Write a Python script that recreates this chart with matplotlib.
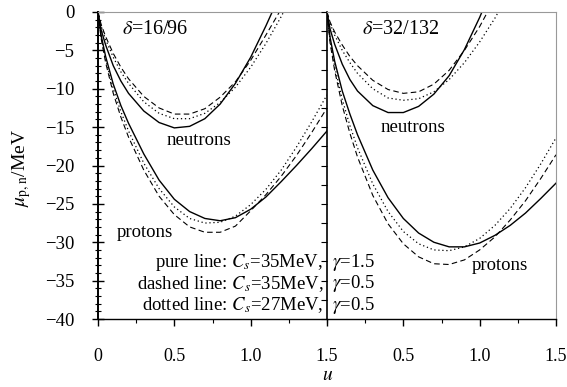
import matplotlib
matplotlib.use("Agg")
import matplotlib.pyplot as plt
from matplotlib.ticker import MultipleLocator, FixedLocator

plt.rcParams['font.family'] = ['Liberation Serif', 'DejaVu Serif']
plt.rcParams['mathtext.fontset'] = 'stix'

u = [0, 0.02, 0.05, 0.1, 0.15, 0.2, 0.3, 0.4, 0.5, 0.6, 0.7, 0.8, 0.9,
     1.0, 1.1, 1.2, 1.3, 1.4, 1.5]

# delta = 16/96
n16_solid = [0, -2.3, -4.3, -7.0, -9.0, -10.6, -12.9, -14.4, -15.1, -14.9, -13.9,
             -12.0, -9.3, -5.9, -1.8, 2.6]
n16_dashed = [0, -1.6, -3.2, -5.4, -7.2, -8.7, -11.0, -12.5, -13.3, -13.3, -12.6,
              -11.1, -9.1, -6.3, -3.0, 0.4, 4.2]
n16_dotted = [0, -1.8, -3.6, -5.9, -7.8, -9.3, -11.7, -13.2, -13.9, -13.9, -13.2,
              -11.8, -9.8, -7.2, -4.1, -0.6, 3.3]
p16_solid = [0, -3.0, -5.8, -9.4, -12.2, -14.5, -18.5, -21.9, -24.4, -26.0, -26.9,
             -27.2, -26.8, -25.7, -24.1, -22.1, -20.0, -17.8, -15.5]
p16_dashed = [0, -3.4, -6.6, -10.6, -13.7, -16.3, -20.6, -24.0, -26.4, -28.0, -28.7,
              -28.7, -27.9, -25.9, -23.8, -21.4, -18.7, -15.7, -12.5]
p16_dotted = [0, -3.2, -6.2, -10.0, -13.0, -15.5, -19.7, -23.0, -25.4, -26.9, -27.5,
              -27.4, -26.6, -25.1, -23.1, -20.6, -17.6, -14.3, -10.8]

# delta = 32/132
n32_solid = [0, -2.2, -4.2, -6.8, -8.8, -10.3, -12.2, -13.1, -13.1, -12.3, -10.7,
             -8.3, -4.9, -0.7, 4.0]
n32_dashed = [0, -1.3, -2.6, -4.3, -5.8, -7.0, -8.9, -10.1, -10.6, -10.4, -9.4,
              -7.6, -5.0, -1.9, 1.8]
n32_dotted = [0, -1.5, -3.0, -5.0, -6.6, -8.0, -10.0, -11.2, -11.5, -11.3, -10.4,
              -8.8, -6.6, -3.9, -0.8, 2.8]
p32_solid = [0, -3.3, -6.4, -10.3, -13.3, -16.0, -20.6, -24.2, -26.9, -28.8, -30.0,
             -30.6, -30.6, -30.1, -29.1, -27.8, -26.2, -24.3, -22.3]
p32_dashed = [0, -4.0, -7.6, -12.2, -15.8, -18.9, -23.9, -27.6, -30.2, -31.9, -32.8,
              -32.9, -32.3, -31.0, -29.3, -27.1, -24.6, -21.7, -18.6]
p32_dotted = [0, -3.7, -7.1, -11.4, -14.8, -17.7, -22.4, -26.0, -28.6, -30.2, -31.0,
              -31.1, -30.6, -29.5, -27.8, -25.6, -22.9, -19.8, -16.4]

styles = {'solid': dict(color='black', lw=1.0, ls='-'),
          'dashed': dict(color='black', lw=0.8, ls=(0, (5, 3))),
          'dotted': dict(color='black', lw=0.9, ls=(0, (1, 2.2)))}

fig = plt.figure(figsize=(5.67, 3.87), dpi=100)
L, R, B, T = 98 / 567, 556 / 567, 1 - 319 / 387, 1 - 12 / 387
w = (R - L) / 2
ax1 = fig.add_axes([L, B, w, T - B])
ax2 = fig.add_axes([L + w, B, w, T - B])

panels = [(ax1, [n16_solid, n16_dashed, n16_dotted], [p16_solid, p16_dashed, p16_dotted]),
          (ax2, [n32_solid, n32_dashed, n32_dotted], [p32_solid, p32_dashed, p32_dotted])]
for ax, ns, ps in panels:
    for vals, key in zip(ns, ['solid', 'dashed', 'dotted']):
        ax.plot(u[:len(vals)], vals, **styles[key])
    for vals, key in zip(ps, ['solid', 'dashed', 'dotted']):
        ax.plot(u[:len(vals)], vals, **styles[key])
    ax.set_xlim(0, 1.5)
    ax.set_ylim(-40, 0)
    ax.spines['top'].set_color('#999999')
    ax.spines['top'].set_linestyle((0, (1, 1)))
    ax.spines['bottom'].set_linewidth(1.0)
    ax.xaxis.set_major_locator(FixedLocator([0, 0.5, 1.0, 1.5]))
    ax.xaxis.set_minor_locator(MultipleLocator(0.25))
    ax.tick_params(axis='x', which='major', direction='out', length=5, width=1.0,
                   pad=16, labelsize=13)
    ax.tick_params(axis='x', which='minor', direction='out', length=3, width=0.8)

ax1.set_xticks([0, 0.5, 1.0])
ax1.set_xticklabels(['0', '0.5', '1.0'])
ax2.set_xticks([0, 0.5, 1.0, 1.5])
ax2.set_xticklabels(['1.5', '0.5', '1.0', '1.5'])

ax1.spines['right'].set_visible(False)
ax1.spines['left'].set_linewidth(1.4)
ax1.yaxis.set_major_locator(MultipleLocator(5))
ax1.yaxis.set_minor_locator(MultipleLocator(1))
ax1.tick_params(axis='y', which='major', direction='inout', length=8, width=1.0,
                pad=13, labelsize=13.5)
ax1.tick_params(axis='y', which='minor', direction='inout', length=4, width=0.8)
ax1.set_yticks(range(-40, 1, 5))

ax2.spines['right'].set_color('#999999')
ax2.spines['left'].set_linewidth(1.2)
ax2.yaxis.set_major_locator(MultipleLocator(2.5))
ax2.tick_params(axis='y', which='major', direction='out', length=4, width=0.8,
                labelleft=False)

ax1.text(0.16, -2.9, r'$\delta$=16/96', fontsize=14.5)
ax2.text(0.23, -2.9, r'$\delta$=32/132', fontsize=14.5)
ax1.text(0.66, -17.3, 'neutrons', fontsize=13.5, ha='center')
ax2.text(0.56, -15.7, 'neutrons', fontsize=13.5, ha='center')
ax1.text(0.12, -29.3, 'protons', fontsize=13.5)
ax2.text(0.95, -33.6, 'protons', fontsize=13.5)

leg_left = [r'pure line: $C_s$=35MeV,', r'dashed line: $C_s$=35MeV,',
            r'dotted line: $C_s$=27MeV,']
leg_right = [r'$\gamma$=1.5', r'$\gamma$=0.5', r'$\gamma$=0.5']
for i, (a, b) in enumerate(zip(leg_left, leg_right)):
    yy = -32.6 - 2.8 * i
    ax1.text(1.475, yy, a, fontsize=13.5, ha='right', va='center')
    ax2.text(0.03, yy, b, fontsize=13.5, ha='left', va='center')

fig.text(22 / 567, 1 - 168 / 387, r'$\mu_{\rm p,n}$/MeV', rotation=90,
         fontsize=14, ha='center', va='center')
fig.text(328 / 567, 1 - 375 / 387, r'$u$', fontsize=14, ha='center', va='center')

fig.savefig('out.png', dpi=100)
